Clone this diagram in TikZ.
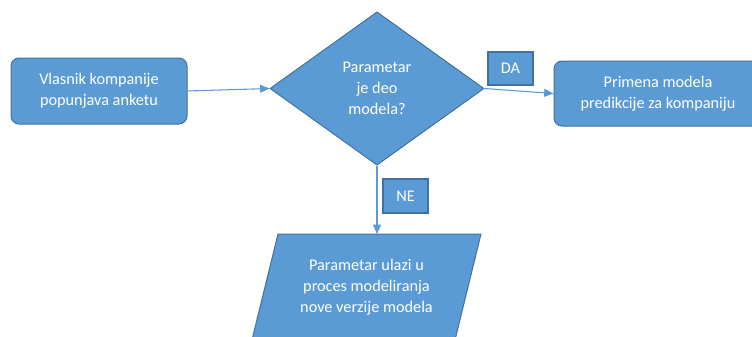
\documentclass[tikz,border=0pt]{standalone}
\usepackage{fontspec}
\setmainfont{Carlito}
\usetikzlibrary{shapes.geometric,arrows.meta}
\definecolor{fillblue}{HTML}{5B9BD5}
\definecolor{edgeblue}{HTML}{41719C}
\begin{document}
\begin{tikzpicture}[x=0.75pt,y=-0.75pt,
  font=\fontsize{12.2pt}{15.6pt}\selectfont,
  procbox/.style={draw=edgeblue,fill=fillblue,line width=0.75pt,rounded corners=6pt,text=white,align=center,inner sep=0pt},
  tagbox/.style={draw=edgeblue,fill=fillblue,line width=1.4pt,text=white,align=center,inner sep=0pt,minimum width=33.75pt,minimum height=25pt},
  decbox/.style={draw=edgeblue,fill=fillblue,line width=0.75pt,shape=diamond,text=white,align=center,inner sep=0pt,minimum width=160.5pt,minimum height=115pt},
  conn/.style={draw=fillblue,line width=0.8pt,-{Triangle[length=7pt,width=6pt]}}]
\useasboundingbox (0,0) rectangle (752,336);
\clip (0,0) rectangle (752,336);
\node[procbox,minimum width=132pt,minimum height=49.5pt] (start) at (99,91) {Vlasnik kompanije\\popunjava anketu};
\node[decbox] (dec) at (377,88.5) {Parametar\\je deo\\modela?};
\node[procbox,minimum width=156pt,minimum height=48.75pt] (apply) at (658,93.5) {Primena modela\\predikcije za kompaniju};
\draw[draw=edgeblue,fill=fillblue,line width=0.75pt] (278,234) -- (481,234) -- (453.5,346) -- (250.5,346) -- cycle;
\node[text=white,align=center] (model) at (366.5,287) {Parametar ulazi u\\proces modeliranja\\nove verzije modela};
\coordinate (ptop) at (dec.south |- 0,234);
\node[tagbox] (da) at (510.5,68.5) {DA};
\node[tagbox] (ne) at (405.5,196) {NE};
\draw[conn] (start.east) -- (dec.west);
\draw[conn] (dec.east) -- (apply.west);
\draw[conn] (dec.south) -- (ptop);
\end{tikzpicture}
\end{document}
